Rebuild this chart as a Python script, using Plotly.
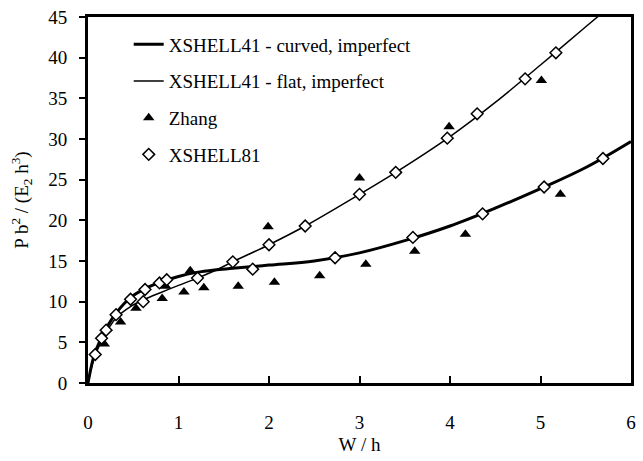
import plotly.graph_objects as go

# XSHELL41 - curved, imperfect (thick line)
curved_x = [0.0, 0.04, 0.08, 0.15, 0.2, 0.31, 0.47, 0.63, 0.8, 1.0, 1.2, 1.4, 1.6, 2.0, 2.5, 3.0, 3.5, 4.0, 4.5, 5.0, 5.5, 6.0]
curved_y = [0.0, 2.2, 3.8, 5.6, 6.7, 8.6, 10.5, 11.6, 12.4, 13.1, 13.6, 13.9, 14.1, 14.5, 15.0, 16.0, 17.5, 19.3, 21.5, 23.9, 26.5, 29.7]

# XSHELL41 - flat, imperfect (thin line)
flat_x = [0.0, 0.04, 0.08, 0.15, 0.2, 0.31, 0.47, 0.61, 0.8, 1.0, 1.21, 1.4, 1.6, 2.0, 2.4, 3.0, 3.4, 4.0, 4.5, 5.0, 5.5, 5.65]
flat_y = [0.0, 2.0, 3.4, 5.2, 6.2, 8.0, 9.4, 10.2, 11.1, 12.0, 12.9, 13.8, 14.9, 17.0, 19.3, 23.2, 25.9, 30.3, 34.5, 39.1, 43.8, 45.2]

# Zhang (filled triangles)
zhang_x = [0.18, 0.36, 0.53, 0.82, 0.86, 1.06, 1.13, 1.28, 1.66, 1.99, 2.06, 2.56, 3.00, 3.07, 3.61, 3.99, 4.17, 5.01, 5.22]
zhang_y = [4.8, 7.5, 9.2, 10.4, 11.9, 11.2, 13.8, 11.7, 11.9, 19.2, 12.4, 13.2, 25.2, 14.6, 16.2, 31.5, 18.3, 37.2, 23.2]

# XSHELL81 (open diamonds)
xs81_x = [0.08, 0.15, 0.20, 0.31, 0.47, 0.61, 0.63, 0.79, 0.87, 1.21, 1.60, 1.82, 2.00, 2.40, 2.73, 3.00, 3.40, 3.59, 3.97, 4.30, 4.36, 4.83, 5.04, 5.17, 5.69]
xs81_y = [3.5, 5.5, 6.5, 8.4, 10.3, 10.0, 11.5, 12.3, 12.7, 12.9, 14.9, 14.0, 17.0, 19.3, 15.4, 23.2, 25.9, 17.9, 30.1, 33.1, 20.8, 37.4, 24.1, 40.6, 27.6]

x_ticks = [0, 1, 2, 3, 4, 5, 6]
y_ticks = [0, 5, 10, 15, 20, 25, 30, 35, 40, 45]

FONT = "Liberation Serif"

fig = go.Figure()
fig.add_trace(go.Scatter(x=curved_x, y=curved_y, mode="lines", name="XSHELL41 - curved, imperfect",
                         line=dict(color="black", width=3, shape="spline"), legendgroup="a"))
fig.add_trace(go.Scatter(x=flat_x, y=flat_y, mode="lines", name="XSHELL41 - flat, imperfect",
                         line=dict(color="black", width=1.5, shape="spline"), legendgroup="b"))
fig.add_trace(go.Scatter(x=zhang_x, y=zhang_y, mode="markers", name="Zhang",
                         marker=dict(symbol="triangle-up", size=10, color="black"), legendgroup="c"))
fig.add_trace(go.Scatter(x=xs81_x, y=xs81_y, mode="markers", name="XSHELL81",
                         marker=dict(symbol="diamond", size=9, color="white",
                                     line=dict(color="black", width=1.5)), legendgroup="d"))

fig.update_layout(
    width=643, height=461,
    margin=dict(l=88, r=7, t=15, b=78),
    paper_bgcolor="white", plot_bgcolor="white",
    font=dict(family=FONT, size=19, color="black"),
    showlegend=True,
    legend=dict(x=0.075, y=0.977, xanchor="left", yanchor="top", bgcolor="rgba(0,0,0,0)",
                font=dict(family=FONT, size=19), tracegroupgap=9, itemwidth=30),
    xaxis=dict(range=[0, 6], tickvals=x_ticks, ticks="inside", ticklen=7, tickwidth=2, tickcolor="black",
               showline=True, linewidth=3, linecolor="black", mirror=True, showgrid=False, zeroline=False,
               ticklabelstandoff=20,
               title=dict(text="W / h", font=dict(family=FONT, size=19), standoff=6)),
    yaxis=dict(range=[0, 45], tickvals=y_ticks, ticks="outside", ticklen=6, tickwidth=2, tickcolor="black",
               showline=True, linewidth=3, linecolor="black", mirror=True, showgrid=False, zeroline=False,
               ticklabelstandoff=8,
               title=dict(text="P b<sup>2</sup> / (E<sub>2</sub> h<sup>3</sup>)", font=dict(family=FONT, size=19), standoff=15)),
)

fig.write_html("out.html", config={"displayModeBar": False},
               post_script="document.body.style.margin='0';")
